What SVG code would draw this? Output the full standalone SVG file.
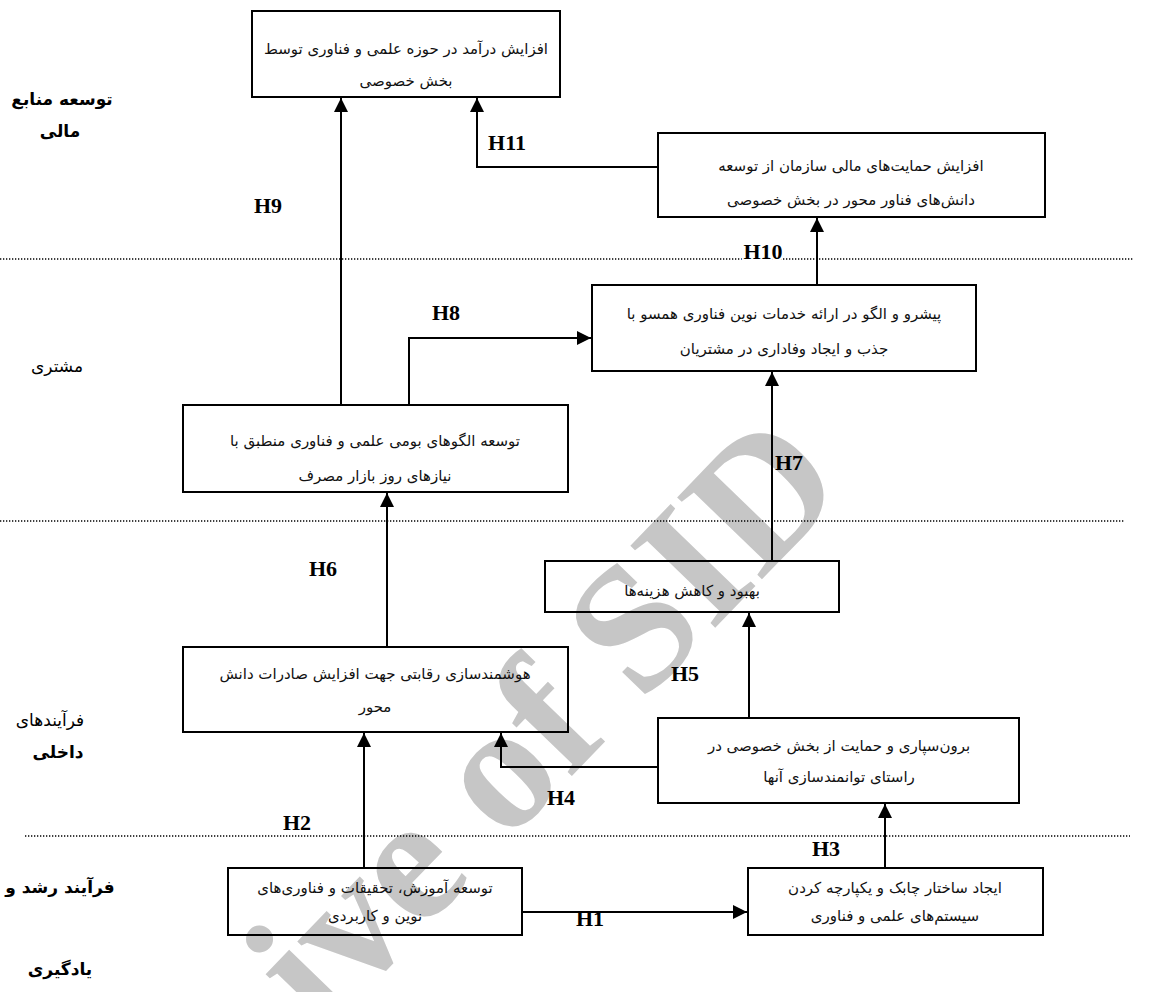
<svg xmlns="http://www.w3.org/2000/svg" width="1149" height="992" viewBox="0 0 1149 992">
<style>
.box{fill:none;stroke:#000;stroke-width:2}
.fa{font-family:"DejaVu Sans",sans-serif;font-size:15px;fill:#111;text-anchor:middle;direction:rtl}
.side{font-family:"DejaVu Sans",sans-serif;font-size:17px;fill:#000;text-anchor:middle;direction:rtl}
.b{font-weight:bold}
.h{font-family:"Liberation Serif",serif;font-weight:bold;font-size:22px;fill:#000;text-anchor:middle}
.halo{stroke:#fff;stroke-width:4;paint-order:stroke}
.dot{stroke:#000;stroke-width:1.3;stroke-dasharray:1.3 1.7;fill:none}
.con{stroke:#000;stroke-width:2;fill:none}
.wm{font-family:"Liberation Serif",serif;font-weight:bold;font-size:180px;fill:#c6c6c6;text-anchor:end}
</style>
<defs>
<marker id="ah" viewBox="0 0 10 10" refX="10" refY="5" markerWidth="7" markerHeight="7" orient="auto" markerUnits="strokeWidth">
<path d="M0,0 L10,5 L0,10 z" fill="#000"/>
</marker>
</defs>
<rect width="1149" height="992" fill="#fff"/>
<text class="wm" transform="translate(850,488) rotate(-46)">Archive of SID</text>

<g id="lanes">
<line class="dot" x1="0" y1="259" x2="1133" y2="259"/>
<line class="dot" x1="0" y1="521" x2="1125" y2="521"/>
<line class="dot" x1="25" y1="836" x2="1130" y2="836"/>
<text class="side b" x="62" y="105">توسعه منابع</text>
<text class="side b" x="60" y="137">مالی</text>
<text class="side" x="57" y="372">مشتری</text>
<text class="side" x="50" y="726">فرآیندهای</text>
<text class="side b" x="58" y="758">داخلی</text>
<text class="side b" x="60" y="893">فرآیند رشد و</text>
<text class="side b" x="60" y="975">یادگیری</text>
</g>

<g id="n1"><rect class="box" x="252" y="11" width="308" height="86"/>
<text class="fa" x="406" y="54">افزایش درآمد در حوزه علمی و فناوری توسط</text>
<text class="fa" x="406" y="86">بخش خصوصی</text></g>

<g id="n2"><rect class="box" x="658" y="133" width="387" height="84"/>
<text class="fa" x="851" y="171">افزایش حمایت&#x200C;های مالی سازمان از توسعه</text>
<text class="fa" x="851" y="205">دانش&#x200C;های فناور محور در بخش خصوصی</text></g>

<g id="n3"><rect class="box" x="592" y="285" width="384" height="86"/>
<text class="fa" x="784" y="319">پیشرو و الگو در ارائه خدمات نوین فناوری همسو با</text>
<text class="fa" x="784" y="354">جذب و ایجاد وفاداری در مشتریان</text></g>

<g id="n4"><rect class="box" x="183" y="405" width="385" height="87"/>
<text class="fa" x="375" y="446">توسعه الگوهای بومی علمی و فناوری منطبق با</text>
<text class="fa" x="375" y="481">نیازهای روز بازار مصرف</text></g>

<g id="n5"><rect class="box" x="545" y="561" width="294" height="51"/>
<text class="fa" x="692" y="596">بهبود و کاهش هزینه&#x200C;ها</text></g>

<g id="n6"><rect class="box" x="183" y="647" width="385" height="85"/>
<text class="fa" x="375" y="679">هوشمندسازی رقابتی جهت افزایش صادرات دانش</text>
<text class="fa" x="375" y="712">محور</text></g>

<g id="n7"><rect class="box" x="658" y="718" width="361" height="85"/>
<text class="fa" x="839" y="751">برون&#x200C;سپاری و حمایت از بخش خصوصی در</text>
<text class="fa" x="839" y="782">راستای توانمندسازی آنها</text></g>

<g id="n8"><rect class="box" x="228" y="868" width="294" height="67"/>
<text class="fa" x="375" y="893">توسعه آموزش، تحقیقات و فناوری&#x200C;های</text>
<text class="fa" x="375" y="921">نوین و کاربردی</text></g>

<g id="n9"><rect class="box" x="748" y="868" width="295" height="67"/>
<text class="fa" x="895" y="893">ایجاد ساختار چابک و یکپارچه کردن</text>
<text class="fa" x="895" y="921">سیستم&#x200C;های علمی و فناوری</text></g>

<g id="connectors">
<line class="con" x1="341" y1="405" x2="341" y2="98" marker-end="url(#ah)"/>
<polyline class="con" points="409,405 409,338 591,338" marker-end="url(#ah)"/>
<polyline class="con" points="658,167 477,167 477,98" marker-end="url(#ah)"/>
<line class="con" x1="817" y1="285" x2="817" y2="218" marker-end="url(#ah)"/>
<line class="con" x1="772" y1="561" x2="772" y2="372" marker-end="url(#ah)"/>
<line class="con" x1="387" y1="647" x2="387" y2="493" marker-end="url(#ah)"/>
<line class="con" x1="749" y1="718" x2="749" y2="613" marker-end="url(#ah)"/>
<polyline class="con" points="658,767 501,767 501,733" marker-end="url(#ah)"/>
<line class="con" x1="364" y1="868" x2="364" y2="733" marker-end="url(#ah)"/>
<line class="con" x1="885" y1="868" x2="885" y2="804" marker-end="url(#ah)"/>
<line class="con" x1="522" y1="912" x2="747" y2="912" marker-end="url(#ah)"/>
</g>

<g id="labels">
<text class="h" x="507" y="150">H11</text>
<text class="h" x="268" y="213">H9</text>
<text class="h halo" x="763" y="259">H10</text>
<text class="h" x="446" y="320">H8</text>
<text class="h" x="789" y="470">H7</text>
<text class="h" x="323" y="576">H6</text>
<text class="h" x="685" y="681">H5</text>
<text class="h" x="561" y="805">H4</text>
<text class="h" x="297" y="830">H2</text>
<text class="h halo" x="826" y="856">H3</text>
<text class="h" x="590" y="926">H1</text>
</g>
</svg>
